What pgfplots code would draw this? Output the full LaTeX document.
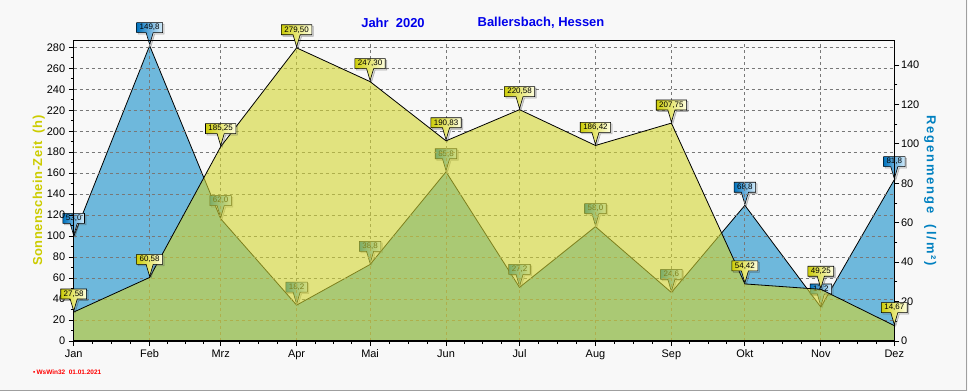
\documentclass[border=0pt]{standalone}
\usepackage{pgfplots}
\pgfplotsset{compat=1.18}
\usepackage{pgfplotstable}
\usepackage{fontspec}
\setmainfont{Liberation Sans}
\newfontfamily\rspaced[LetterSpace=15]{Liberation Sans}
\newfontfamily\lspaced[LetterSpace=4]{Liberation Sans}
\usetikzlibrary{shapes.callouts,shadows}

\definecolor{bg}{RGB}{248,248,248}
\definecolor{rainfill}{RGB}{110,184,220}
\definecolor{sunfill}{RGB}{210,213,47}
\definecolor{titleblue}{RGB}{0,0,235}
\definecolor{sunlab}{RGB}{204,204,0}
\definecolor{rainlab}{RGB}{0,128,192}
\definecolor{rainL}{RGB}{0,115,190}
\definecolor{rainR}{RGB}{215,238,252}
\definecolor{sunL}{RGB}{205,205,10}
\definecolor{sunR}{RGB}{255,255,225}
\definecolor{gridgray}{RGB}{120,120,120}

\pgfplotstableread{
x y lab
0 53.0 53,0
31 149.8 149,8
60 62.0 62,0
91 18.2 18,2
121 38.8 38,8
152 85.8 85,8
182 27.2 27,2
213 58.0 58,0
244 24.6 24,6
274 68.8 68,8
305 17.2 17,2
335 81.8 81,8
}\rain

\pgfplotstableread{
x y lab
0 27.58 27,58
31 60.58 60,58
60 185.25 185,25
91 279.50 279,50
121 247.30 247,30
152 190.83 190,83
182 220.58 220,58
213 186.42 186,42
244 207.75 207,75
274 54.42 54,42
305 49.25 49,25
335 14.67 14,67
}\sun

\tikzset{
  vlab/.style={rectangle callout, callout relative pointer={(0,-12bp)}, anchor=pointer,
    draw=black, line width=0.6bp, font=\fontsize{8}{9}\selectfont, text=black,
    inner xsep=3bp, inner ysep=0pt, minimum height=10bp,
    drop shadow={shadow xshift=1.5bp, shadow yshift=-1.5bp, opacity=0.25}},
}
\pgfplotsset{
  common/.style={
    at={(0,0)}, anchor=south west, scale only axis,
    width=820.6bp, height=300.7bp,
    xmin=0, xmax=335, clip=false,
    tick align=outside, major tick length=5bp, minor tick length=3bp,
    tick style={black, line width=0.8bp},
    /pgf/number format/assume math mode=true,
    ticklabel style={font=\fontsize{11}{13}\selectfont},
  },
}

\begin{document}
\begin{tikzpicture}
\fill[bg] (-73.7bp,-50bp) rectangle (894.3bp,341bp);
\useasboundingbox (-73.7bp,-50bp) rectangle (894.3bp,341bp);
\draw[gray!75, line width=1bp] (-73.7bp,-49.3bp) -- (892.3bp,-49.3bp) -- (892.3bp,341bp);

% rain (right axis)
\begin{axis}[common,
  ymin=0, ymax=152.5,
  axis x line=none, axis y line*=right,
  y axis line style={line width=1.5bp, -},
  ytick={0,20,...,140}, minor y tick num=1,
  yticklabel style={inner xsep=1.5bp},
  ylabel={Regenmenge\ \ (l/m²)},
  ylabel style={at={([xshift=36bp]axis description cs:1,0.5)}, anchor=center, rotate=180,
    font=\rspaced\bfseries\fontsize{13}{15}\selectfont, text=rainlab},
]
\addplot[fill=rainfill, draw=none] table[x=x,y=y]{\rain} \closedcycle;
\addplot[black, line width=0.8bp, nodes near coords, point meta=explicit symbolic,
  nodes near coords style={vlab, left color=rainL, right color=rainR}]
  table[x=x,y=y,meta=lab]{\rain};
\end{axis}

% sunshine (left axis)
\begin{axis}[common,
  ymin=0, ymax=286.7,
  xtick={0,31,60,91,121,152,182,213,244,274,305,335},
  xticklabels={Jan,Feb,Mrz,Apr,Mai,Jun,Jul,Aug,Sep,Okt,Nov,Dez},
  minor xtick={7.75,15.5,23.25,38.25,45.5,52.75,67.75,75.5,83.25,98.5,106,113.5,128.75,136.5,144.25,159.5,167,174.5,189.75,197.5,205.25,220.75,228.5,236.25,251.5,259,266.5,281.75,289.5,297.25,312.5,320,327.5},
  ytick={0,20,...,280}, minor y tick num=1,
  xtick pos=bottom, ytick pos=left,
  grid=major, grid style={dash pattern=on 3bp off 3bp, gridgray, line width=0.8bp},
  axis line style={line width=1bp},
  ylabel={Sonnenschein-Zeit\ \ (h)},
  ylabel style={at={([xshift=-35bp]axis description cs:0,0.5)}, anchor=center,
    font=\lspaced\bfseries\fontsize{13}{15}\selectfont, text=sunlab},
]
\addplot[fill=sunfill, fill opacity=0.6, draw=none] table[x=x,y=y]{\sun} \closedcycle;
\addplot[black, line width=0.8bp, nodes near coords, point meta=explicit symbolic,
  nodes near coords style={vlab, left color=sunL, right color=sunR}]
  table[x=x,y=y,meta=lab]{\sun};
\draw[line width=1.5bp] (rel axis cs:0,1) -- (rel axis cs:0,0) -- (rel axis cs:1,0) -- (rel axis cs:1,1);
\draw[line width=1bp] (rel axis cs:0,1) -- (rel axis cs:1,1);
\end{axis}

\node[font=\bfseries\fontsize{13}{15}\selectfont, text=titleblue] at (319.3bp,318bp) {Jahr\ \ 2020};
\node[font=\bfseries\fontsize{13}{15}\selectfont, text=titleblue] at (467.3bp,318bp) {Ballersbach, Hessen};
\node[anchor=west, inner sep=0pt, text=red, font=\bfseries\fontsize{6.5}{7}\selectfont] at (-40.7bp,-31bp) {\textbullet\,WsWin32\ \ 01.01.2021};
\end{tikzpicture}
\end{document}
